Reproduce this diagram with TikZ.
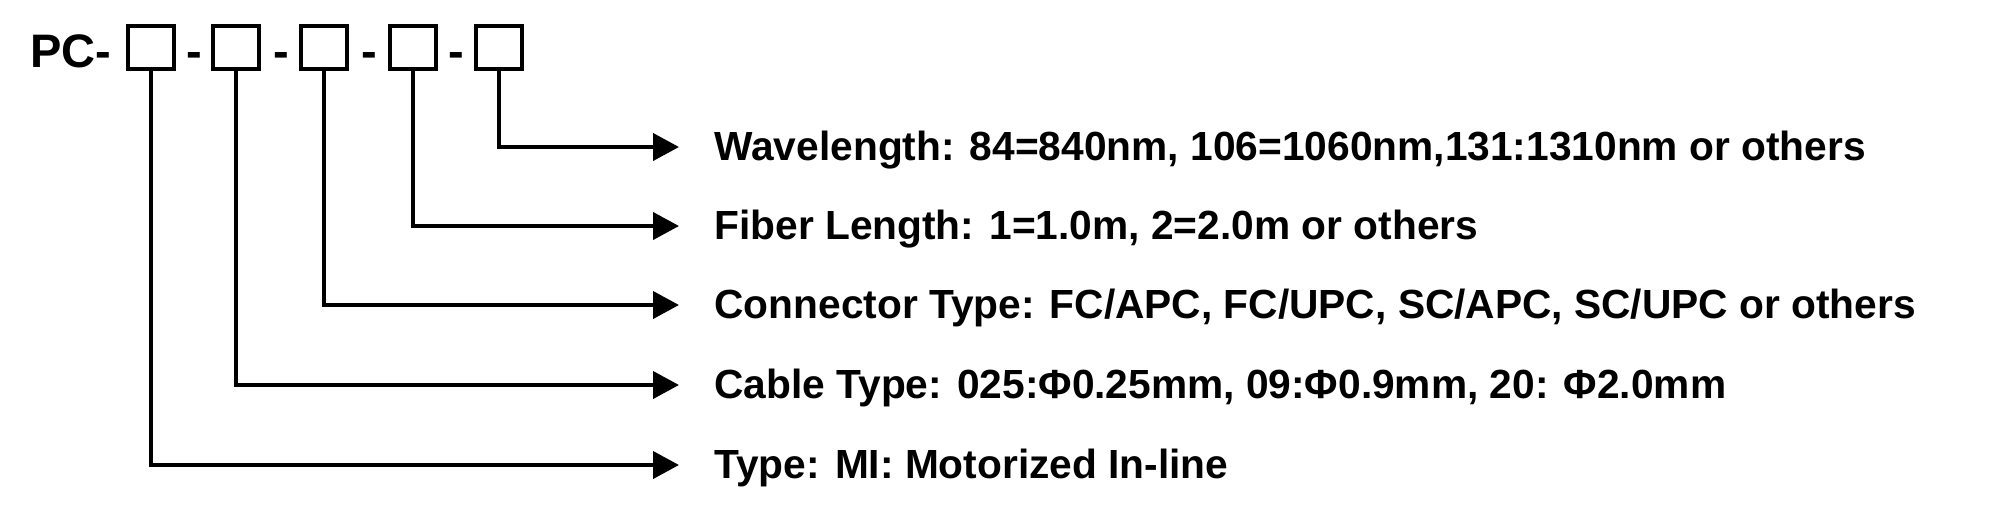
\documentclass[tikz,border=0pt]{standalone}
\usepackage{fontspec}
\setmainfont{Liberation Sans}
\usetikzlibrary{arrows.meta}
\begin{document}
\begin{tikzpicture}[x=0.5pt,y=-0.5pt,
  codebox/.style={draw,line width=2pt,minimum width=23pt,minimum height=21.5pt,inner sep=0pt},
  title/.style={inner sep=0pt,anchor=base west,font=\bfseries\fontsize{23.5pt}{28pt}\selectfont},
  dashtxt/.style={inner sep=0pt,anchor=base,font=\bfseries\fontsize{23.5pt}{28pt}\selectfont},
  desc/.style={inner sep=0pt,anchor=base west,font=\bfseries\fontsize{20.35pt}{24pt}\selectfont},
  conn/.style={line width=2pt,-{Triangle[length=13pt,width=13.5pt]}}]
\useasboundingbox (0,0) rectangle (2000,527);
\node[title] (pc) at (30,67) {PC-};
\node[codebox] (b1) at (151,47) {};
\node[codebox] (b2) at (235.5,47) {};
\node[codebox] (b3) at (324,47) {};
\node[codebox] (b4) at (412.5,47) {};
\node[codebox] (b5) at (498.5,47) {};
\node[dashtxt] (h1) at (194,67) {-};
\node[dashtxt] (h2) at (281.5,67) {-};
\node[dashtxt] (h3) at (369.5,67) {-};
\node[dashtxt] (h4) at (456.5,67) {-};
\coordinate (e5) at (679,147);
\coordinate (e4) at (679,226);
\coordinate (e3) at (679,305);
\coordinate (e2) at (679,385);
\coordinate (e1) at (679,465);
\node[desc] (t5) at (714,160) {Wavelength: 84=840nm, 106=1060nm,131:1310nm or others};
\node[desc] (t4) at (714,239) {Fiber Length: 1=1.0m, 2=2.0m or others};
\node[desc] (t3) at (714,318) {Connector Type: FC/APC, FC/UPC, SC/APC, SC/UPC or others};
\node[desc] (t2) at (714,398) {Cable Type: 025:Φ0.25mm, 09:Φ0.9mm, 20: Φ2.0mm};
\node[desc] (t1) at (714,478) {Type: MI: Motorized In-line};
\draw[conn] (b5.south) |- (e5);
\draw[conn] (b4.south) |- (e4);
\draw[conn] (b3.south) |- (e3);
\draw[conn] (b2.south) |- (e2);
\draw[conn] (b1.south) |- (e1);
\end{tikzpicture}
\end{document}
